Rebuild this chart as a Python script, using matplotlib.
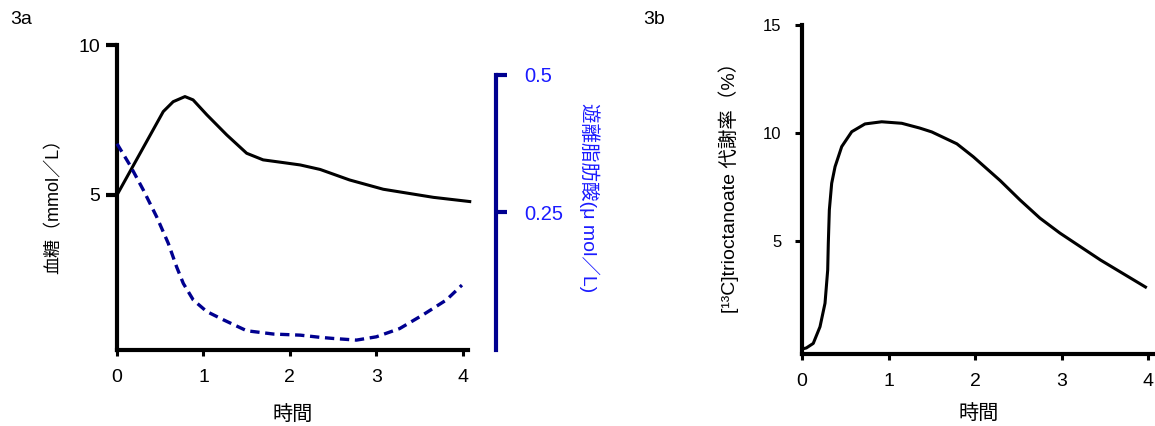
import matplotlib
matplotlib.use("Agg")
import matplotlib.pyplot as plt

plt.rcParams["font.family"] = ["Liberation Sans", "Noto Sans CJK JP"]

# 3a: blood glucose (mmol/L) and free fatty acids (umol/L) vs time
GLU_T = [0, 0.535, 0.65, 0.786, 0.88, 1.04, 1.27, 1.5, 1.69, 1.92, 2.12, 2.35, 2.69, 3.08, 3.66, 4.08]
GLU = [5.0, 7.78, 8.11, 8.28, 8.17, 7.67, 7.0, 6.39, 6.17, 6.08, 6.0, 5.85, 5.5, 5.19, 4.92, 4.78]
FFA_T = [0, 0.15, 0.304, 0.459, 0.593, 0.69, 0.767, 0.882, 1.037, 1.229, 1.5, 1.81, 2.12, 2.35,
         2.5, 2.77, 3.0, 3.27, 3.54, 3.81, 3.99]
FFA = [0.375, 0.336, 0.291, 0.242, 0.194, 0.151, 0.121, 0.091, 0.070, 0.055, 0.035, 0.029, 0.027,
       0.023, 0.021, 0.018, 0.024, 0.039, 0.064, 0.091, 0.118]

# 3b: [13C]trioctanoate metabolic rate (%) vs time
TRI_T = [0, 0.05, 0.13, 0.208, 0.266, 0.297, 0.304, 0.316, 0.343, 0.382, 0.459, 0.575, 0.728,
         0.921, 1.153, 1.36, 1.5, 1.79, 1.98, 2.29, 2.52, 2.75, 2.98, 3.45, 3.97]
TRI = [0, 0.05, 0.26, 1.03, 2.12, 3.66, 4.89, 6.44, 7.67, 8.44, 9.37, 10.06, 10.42,
       10.52, 10.45, 10.23, 10.05, 9.5, 8.9, 7.8, 6.9, 6.06, 5.37, 4.12, 2.87]

X_TICKS = [0, 1, 2, 3, 4]
GLU_TICKS = [5, 10]
FFA_TICKS = [0.25, 0.5]
TRI_TICKS = [5, 10, 15]

W, H = 1155, 426
NAVY = "#000090"
BLUE = "#1a1aff"


def rect(x0, y0, x1, y1):
    # pixel box -> figure fraction
    return [x0 / W, 1 - y1 / H, (x1 - x0) / W, (y1 - y0) / H]


fig = plt.figure(figsize=(W / 100, H / 100), dpi=100)

# ---- 3a ----
ax = fig.add_axes(rect(117, 45, 468, 350))
ax.plot(GLU_T, GLU, color="black", linewidth=2.2, clip_on=False, zorder=3)
ax.set_xlim(0, 4.06)
ax.set_ylim(-0.17, 10)
ax.set_xticks(X_TICKS)
ax.set_yticks(GLU_TICKS)
for s in ["top", "right"]:
    ax.spines[s].set_visible(False)
for s in ["left", "bottom"]:
    ax.spines[s].set_linewidth(3)
ax.tick_params(axis="y", length=8, width=3, pad=4, labelsize=14)
ax.tick_params(axis="x", length=4.5, width=2.2, pad=9, labelsize=14)
ax.set_xlabel("時間", fontsize=14.5, labelpad=14)
ax.set_ylabel("血糖（mmol／L）", fontsize=13)
ax.yaxis.set_label_coords(-0.154, 0.485)

ax2 = ax.twinx()
ax2.plot(FFA_T, FFA, color=NAVY, linewidth=2.4, linestyle=(0, (2.8, 1.7)), clip_on=False)
ax2.set_ylim(0, 0.5545)
ax2.set_yticks(FFA_TICKS)
ax2.set_yticklabels(["0.25", "0.5"])
for s in ["top", "left", "bottom"]:
    ax2.spines[s].set_visible(False)
ax2.spines["right"].set_position(("axes", 1.08))
ax2.spines["right"].set_bounds(0, 0.5)
ax2.spines["right"].set_linewidth(3)
ax2.spines["right"].set_color(NAVY)
ax2.tick_params(axis="y", length=8, width=3, pad=12, labelsize=14.5, color=NAVY, labelcolor=BLUE)
ax2.set_ylabel("遊離脂肪酸(μ mol／L)", fontsize=14, color=BLUE, rotation=270)
ax2.yaxis.set_label_coords(1.375, 0.5)

fig.text(10 / W, 1 - 19 / H, "3a", fontsize=14, va="center", ha="left")

# ---- 3b ----
bx = fig.add_axes(rect(802, 25, 1155, 354))
bx.plot(TRI_T, TRI, color="black", linewidth=2.2, clip_on=False)
bx.set_xlim(0, 4.08)
bx.set_ylim(-0.23, 15)
bx.set_xticks(X_TICKS)
bx.set_yticks(TRI_TICKS)
for s in ["top", "right"]:
    bx.spines[s].set_visible(False)
for s in ["left", "bottom"]:
    bx.spines[s].set_linewidth(3)
bx.tick_params(axis="y", length=5, width=2.2, pad=10, labelsize=12)
bx.tick_params(axis="x", length=4.5, width=2.2, pad=9, labelsize=14)
bx.set_xlabel("時間", fontsize=14.5, labelpad=10)
bx.set_ylabel("[¹³C]trioctanoate 代謝率（%）", fontsize=14)
bx.yaxis.set_label_coords(-0.179, 0.52)

fig.text(643 / W, 1 - 19 / H, "3b", fontsize=14, va="center", ha="left")

fig.savefig("out.png", dpi=100)
